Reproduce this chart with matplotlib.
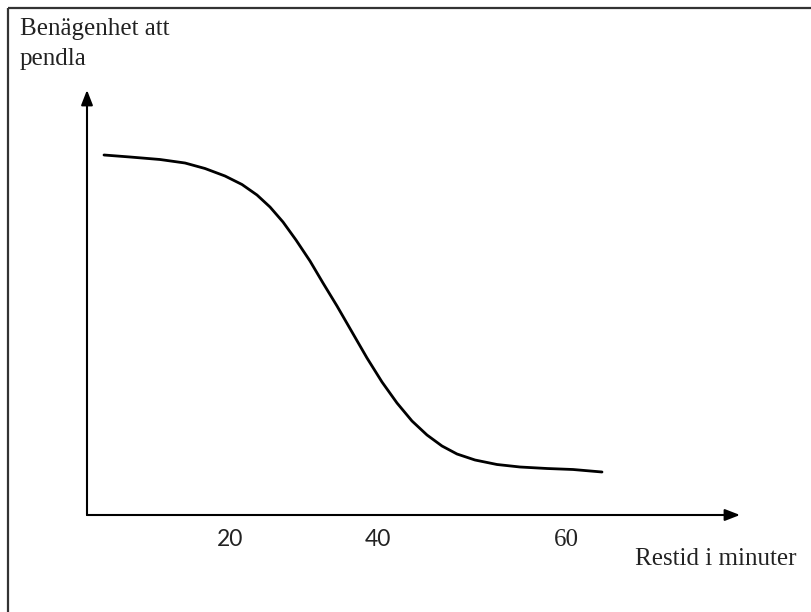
import matplotlib
matplotlib.use("Agg")
import matplotlib.pyplot as plt

# Schematic curve (position relative to axis origin, arbitrary units)
curve_x = [17, 43, 73, 98, 118, 138, 155, 170, 183, 196, 209, 223, 236, 250, 265,
           280, 295, 310, 325, 340, 355, 370, 388, 410, 433, 460, 486, 515]
curve_y = [360, 358, 355.5, 352, 346.5, 339, 330.5, 320, 308, 293, 275, 254, 232, 209, 183,
           157, 133, 112, 94, 80, 69, 61, 55, 50.5, 48, 46.5, 45.5, 43]

tick_pos = [143, 291, 479]
tick_labels = ["20", "40", "60"]
tick_fonts = ["Lato", "Lato", "Liberation Serif"]
tick_sizes = [16.5, 16.5, 18]

y_label = "Benägenhet att\npendla"
x_label = "Restid i minuter"

fig = plt.figure(figsize=(8.11, 6.12), dpi=100)
ax = fig.add_axes([0, 0, 1, 1])
ax.set_xlim(-87, 724)
ax.set_ylim(-97, 515)
ax.axis("off")

# frame (left and top edges visible)
ax.plot([-79, -79], [-97, 507], color="#333333", lw=1.6, solid_capstyle="butt")
ax.plot([-79, 724], [507, 507], color="#333333", lw=1.6, solid_capstyle="butt")

# axes arrows
ax.annotate("", xy=(0, 425), xytext=(0, 0),
            arrowprops=dict(arrowstyle="-|>,head_length=0.9,head_width=0.35", lw=1.5, color="black",
                            shrinkA=0, shrinkB=0))
ax.annotate("", xy=(653, 0), xytext=(0, 0),
            arrowprops=dict(arrowstyle="-|>,head_length=0.9,head_width=0.35", lw=1.5, color="black",
                            shrinkA=0, shrinkB=0))

ax.plot(curve_x, curve_y, color="black", lw=2.0, solid_capstyle="round", solid_joinstyle="round")

for p, lab, f, s in zip(tick_pos, tick_labels, tick_fonts, tick_sizes):
    ax.text(p, -25, lab, ha="center", va="center", fontsize=s, family=f, color="#222222")

ax.text(548, -44, x_label, ha="left", va="center", fontsize=18, family="Liberation Serif", color="#222222")
ax.text(-67, 497, y_label, ha="left", va="top", fontsize=18, family="Liberation Serif",
        color="#222222", linespacing=1.45)

fig.savefig("out.png", dpi=100)
